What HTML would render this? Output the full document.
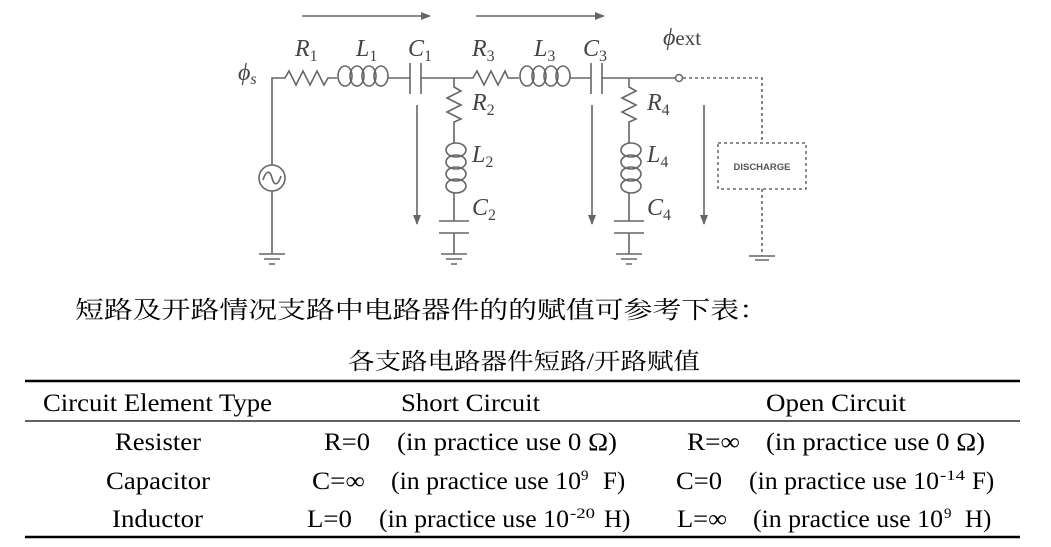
<!DOCTYPE html>
<html><head><meta charset="utf-8"><style>
html,body{margin:0;padding:0;background:#fff;width:1051px;height:547px;overflow:hidden}
svg{display:block}
.w{stroke:#666;stroke-width:1.6;fill:none}
.lab{font-family:"Liberation Serif",serif;font-style:italic;font-size:24px;fill:#444}
.sub{font-size:16px;font-style:normal}
.cn{font-family:"Liberation Serif","Noto Serif CJK SC",serif;fill:#000}
</style></head><body>
<svg width="1051" height="547" viewBox="0 0 1051 547">
<defs>
<marker id="ah" markerWidth="10" markerHeight="8" refX="9" refY="4" orient="auto" markerUnits="userSpaceOnUse">
<path d="M0,0 L10,4 L0,8 Z" fill="#666"/></marker>
</defs>
<line class="w" x1="302" y1="16" x2="430" y2="16" marker-end="url(#ah)"/>
<line class="w" x1="476" y1="16" x2="604" y2="16" marker-end="url(#ah)"/>
<path class="w" d="M272,165 L272,78 L285,78 L289,71 L296,85 L303,71 L310,85 L317,71 L324,85 L328,78 L337,78"/>
<g class="w"><ellipse cx="345" cy="76" rx="7" ry="10"/><ellipse cx="357" cy="76" rx="7" ry="10"/><ellipse cx="369" cy="76" rx="7" ry="10"/><ellipse cx="381" cy="76" rx="7" ry="10"/></g>
<path class="w" d="M388,78 L410,78 M410,63 L410,94 M421,63 L421,94 M421,78 L473,78 L477,71 L484,85 L491,71 L498,85 L505,71 L508,78 L519,78"/>
<g class="w"><ellipse cx="527" cy="76" rx="7" ry="10"/><ellipse cx="539" cy="76" rx="7" ry="10"/><ellipse cx="551" cy="76" rx="7" ry="10"/><ellipse cx="563" cy="76" rx="7" ry="10"/></g>
<path class="w" d="M570,78 L591,78 M591,63 L591,94 M602,63 L602,94 M602,78 L676,78"/>
<circle cx="679" cy="78" r="3.5" fill="#fff" stroke="#666" stroke-width="1.5"/>
<circle class="w" cx="272" cy="178" r="13"/>
<path class="w" d="M263,180 C266,170 270,170 272,178 C274,186 278,186 281,176"/>
<path class="w" d="M272,191 L272,254 M259,254 L285,254 M264,259 L280,259 M269,264 L275,264"/>
<path class="w" d="M454,78 L454,87 L461,91 L447,98 L461,105 L447,112 L461,119 L454,122 L454,143"/>
<g class="w"><ellipse cx="456" cy="150" rx="10" ry="7"/><ellipse cx="456" cy="162" rx="10" ry="7"/><ellipse cx="456" cy="174" rx="10" ry="7"/><ellipse cx="456" cy="186" rx="10" ry="7"/></g>
<path class="w" d="M454,193 L454,221 M439,221 L469,221 M439,233 L469,233 M454,233 L454,254 M441,254 L467,254 M446,259 L462,259 M451,264 L457,264"/>
<path class="w" d="M629,78 L629,87 L636,91 L622,98 L636,105 L622,112 L636,119 L629,122 L629,143"/>
<g class="w"><ellipse cx="631" cy="150" rx="10" ry="7"/><ellipse cx="631" cy="162" rx="10" ry="7"/><ellipse cx="631" cy="174" rx="10" ry="7"/><ellipse cx="631" cy="186" rx="10" ry="7"/></g>
<path class="w" d="M629,193 L629,221 M614,221 L644,221 M614,233 L644,233 M629,233 L629,254 M616,254 L642,254 M621,259 L637,259 M626,264 L632,264"/>
<path class="w" stroke-dasharray="3,3" d="M683,78 L762,78 L762,143 M762,189 L762,256"/>
<rect x="718" y="143" width="88" height="46" fill="none" stroke="#666" stroke-width="1.5" stroke-dasharray="3,3"/>
<text x="762" y="170" text-anchor="middle" font-family="Liberation Sans,sans-serif" font-weight="bold" font-size="9.5" fill="#555">DISCHARGE</text>
<path class="w" d="M749,256 L775,256 M755,260 L769,260"/>
<line class="w" x1="417" y1="105" x2="417" y2="224" marker-end="url(#ah)"/>
<line class="w" x1="592" y1="105" x2="592" y2="224" marker-end="url(#ah)"/>
<line class="w" x1="704" y1="105" x2="704" y2="224" marker-end="url(#ah)"/>
<text class="lab" x="295" y="56">R<tspan class="sub" dy="5">1</tspan></text>
<text class="lab" x="356" y="56">L<tspan class="sub" dy="5">1</tspan></text>
<text class="lab" x="408" y="56">C<tspan class="sub" dy="5">1</tspan></text>
<text class="lab" x="472" y="56">R<tspan class="sub" dy="5">3</tspan></text>
<text class="lab" x="534" y="56">L<tspan class="sub" dy="5">3</tspan></text>
<text class="lab" x="583" y="56">C<tspan class="sub" dy="5">3</tspan></text>
<text class="lab" x="663" y="45">ϕ<tspan style="font-style:normal;font-size:21px">ext</tspan></text>
<text class="lab" x="238" y="80">ϕ<tspan class="sub" style="font-style:italic" dy="4">s</tspan></text>
<text class="lab" x="472" y="110">R<tspan class="sub" dy="5">2</tspan></text>
<text class="lab" x="472" y="162">L<tspan class="sub" dy="5">2</tspan></text>
<text class="lab" x="472" y="215">C<tspan class="sub" dy="5">2</tspan></text>
<text class="lab" x="647" y="110">R<tspan class="sub" dy="5">4</tspan></text>
<text class="lab" x="647" y="162">L<tspan class="sub" dy="5">4</tspan></text>
<text class="lab" x="647" y="215">C<tspan class="sub" dy="5">4</tspan></text>
<text class="cn" x="75" y="318" font-size="24" textLength="693" lengthAdjust="spacingAndGlyphs">短路及开路情况支路中电路器件的的赋值可参考下表：</text>
<text class="cn" x="348" y="369" font-size="23" textLength="352" lengthAdjust="spacingAndGlyphs">各支路电路器件短路/开路赋值</text>
<line x1="25" y1="381" x2="1020" y2="381" stroke="#000" stroke-width="2.5"/>
<line x1="25" y1="421" x2="1020" y2="421" stroke="#000" stroke-width="1.3"/>
<line x1="25" y1="537" x2="1020" y2="537" stroke="#000" stroke-width="2.5"/>
<g style="font-family:'Liberation Serif',serif;font-size:25px" fill="#000">
<text x="43" y="411" textLength="229" lengthAdjust="spacingAndGlyphs">Circuit Element Type</text>
<text x="401" y="411" textLength="139" lengthAdjust="spacingAndGlyphs">Short Circuit</text>
<text x="766" y="411" textLength="140" lengthAdjust="spacingAndGlyphs">Open Circuit</text>
<text x="115" y="450" textLength="86" lengthAdjust="spacingAndGlyphs">Resister</text>
<text x="324" y="450" textLength="46" lengthAdjust="spacingAndGlyphs">R=0</text>
<text x="397" y="450" textLength="220" lengthAdjust="spacingAndGlyphs">(in practice use 0 Ω)</text>
<text x="687" y="450" textLength="53" lengthAdjust="spacingAndGlyphs">R=∞</text>
<text x="766" y="450" textLength="219" lengthAdjust="spacingAndGlyphs">(in practice use 0 Ω)</text>
<text x="106" y="489" textLength="104" lengthAdjust="spacingAndGlyphs">Capacitor</text>
<text x="312" y="489" textLength="53" lengthAdjust="spacingAndGlyphs">C=∞</text>
<text x="391" y="489" textLength="190" lengthAdjust="spacingAndGlyphs">(in practice use 10</text>
<text x="581" y="480" font-size="15">9</text>
<text x="603" y="489">F)</text>
<text x="676" y="489" textLength="46" lengthAdjust="spacingAndGlyphs">C=0</text>
<text x="749" y="489" textLength="190" lengthAdjust="spacingAndGlyphs">(in practice use 10</text>
<text x="940" y="480" font-size="15" textLength="25" lengthAdjust="spacingAndGlyphs">-14</text>
<text x="972" y="489">F)</text>
<text x="112" y="527" textLength="91" lengthAdjust="spacingAndGlyphs">Inductor</text>
<text x="307" y="527" textLength="45" lengthAdjust="spacingAndGlyphs">L=0</text>
<text x="379" y="527" textLength="190" lengthAdjust="spacingAndGlyphs">(in practice use 10</text>
<text x="570" y="518" font-size="15" textLength="25" lengthAdjust="spacingAndGlyphs">-20</text>
<text x="604" y="527">H)</text>
<text x="677" y="527" textLength="50" lengthAdjust="spacingAndGlyphs">L=∞</text>
<text x="753" y="527" textLength="190" lengthAdjust="spacingAndGlyphs">(in practice use 10</text>
<text x="944" y="518" font-size="15">9</text>
<text x="965" y="527">H)</text>
</g>
</svg>
</body></html>
